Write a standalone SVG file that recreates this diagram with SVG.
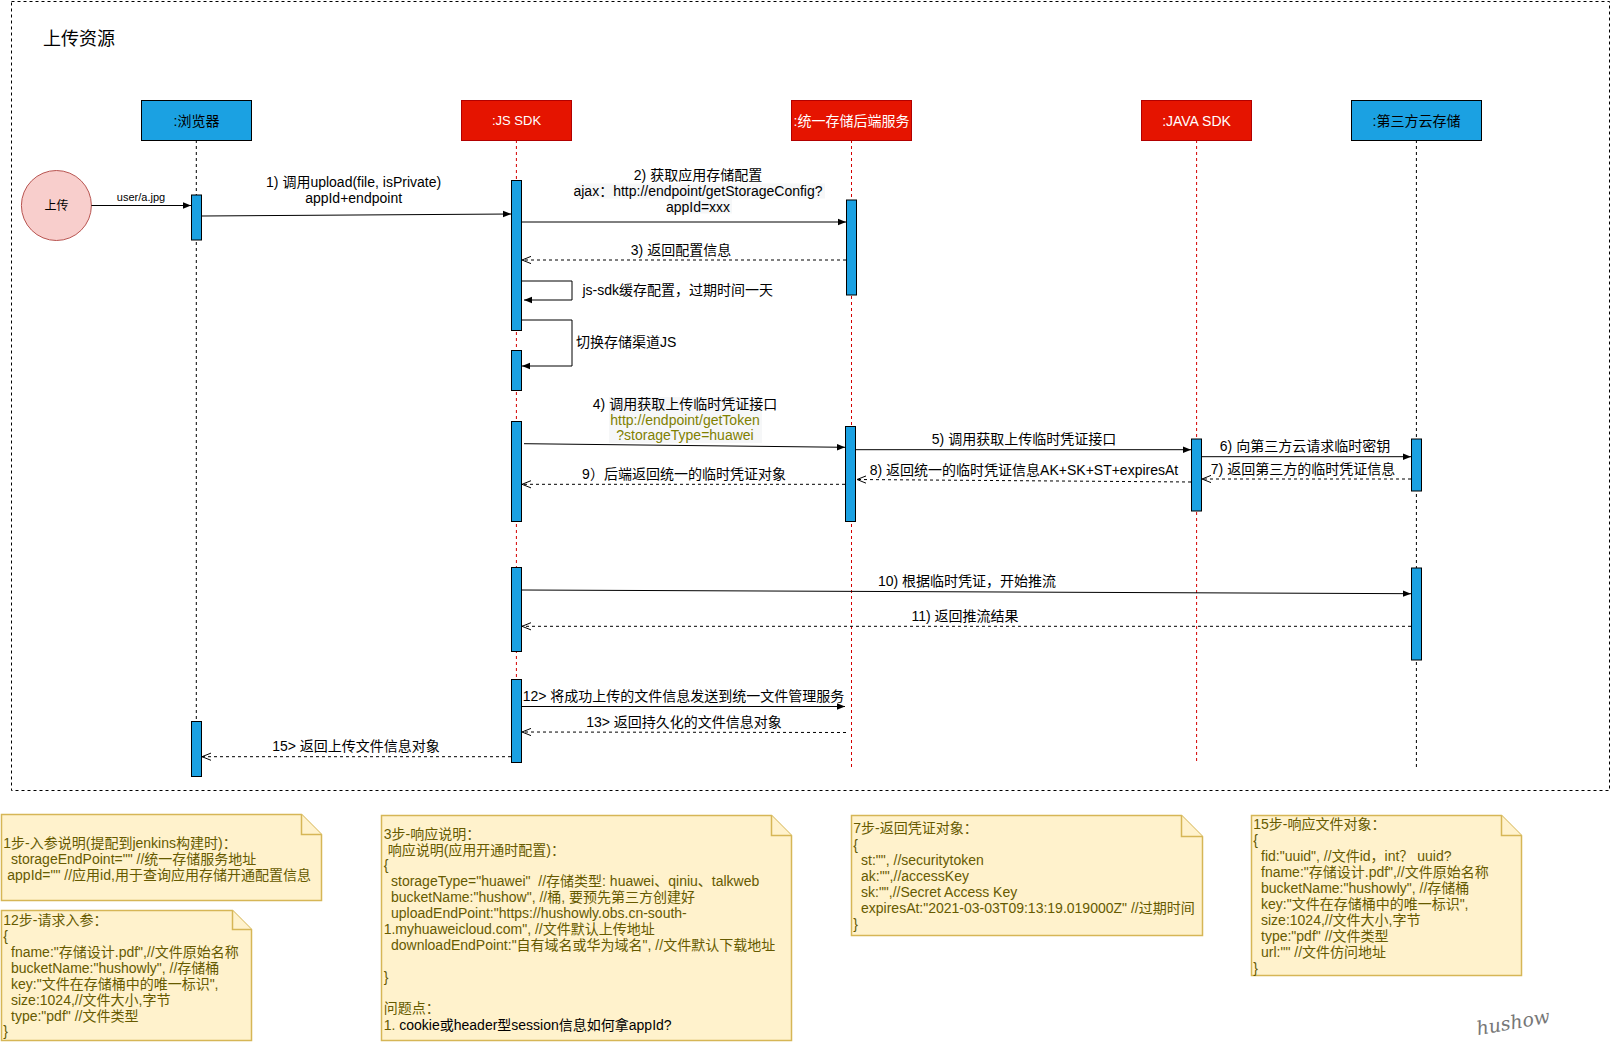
<svg xmlns="http://www.w3.org/2000/svg" width="1612" height="1042" viewBox="0 0 1612 1042">
<style>
text{font-family:"Liberation Sans","Noto Sans CJK SC",sans-serif;dominant-baseline:central}
.t14{font-size:14px;fill:#000}
.mid{text-anchor:middle}
.hdrB{fill:#1ba1e2;stroke:#000;stroke-width:1}
.hdrR{fill:#e51400;stroke:#b20000;stroke-width:1}
.act{fill:#1ba1e2;stroke:#000;stroke-width:1}
.llB{stroke:#000;stroke-width:1;stroke-dasharray:3 3;fill:none}
.llR{stroke:#d40000;stroke-width:1;stroke-dasharray:3 3;fill:none}
.msg{stroke:#000;stroke-width:1;fill:none;marker-end:url(#block)}
.ret{stroke:#000;stroke-width:1;fill:none;stroke-dasharray:3 3;marker-end:url(#open)}
.note{fill:#fff2cc;stroke:#d6b656;stroke-width:1.5}
.nt{font-size:14px;fill:#665a00}
.hl{fill:#f6f7f8}
</style>
<defs>
<marker id="block" viewBox="0 0 10 10" refX="10" refY="5" markerWidth="8" markerHeight="8" orient="auto" markerUnits="userSpaceOnUse"><path d="M0,1 L10,5 L0,9 Z" fill="#000"/></marker>
<marker id="open" viewBox="0 0 10 10" refX="10" refY="5" markerWidth="9" markerHeight="9" orient="auto" markerUnits="userSpaceOnUse"><path d="M0,1 L10,5 L0,9" fill="none" stroke="#000" stroke-width="1.1"/></marker>
</defs>
<rect width="1612" height="1042" fill="#fff"/>
<g id="frame">
<rect x="11.5" y="1.5" width="1598" height="789" fill="none" stroke="#000" stroke-width="1" stroke-dasharray="3 3"/>
<text x="43" y="39" style="font-size:18px">上传资源</text>
</g>
<g id="lifelines">
<line class="llB" x1="196.3" y1="140" x2="196.3" y2="777"/>
<line class="llR" x1="516.4" y1="140" x2="516.4" y2="762"/>
<line class="llR" x1="851.5" y1="140" x2="851.5" y2="767"/>
<line class="llR" x1="1196.6" y1="140" x2="1196.6" y2="761"/>
<line class="llB" x1="1416.4" y1="140" x2="1416.4" y2="767"/>
</g>
<g id="actor-upload">
<circle cx="56.4" cy="205.5" r="35" fill="#f8cecc" stroke="#b85450" stroke-width="1"/>
<text x="56.4" y="205.5" class="mid" style="font-size:12px">上传</text>
</g>
<g id="node-browser">
<rect class="hdrB" x="141.5" y="100.5" width="110" height="40"/>
<text x="196.5" y="120.5" class="mid" style="font-size:14px;fill:#000">:浏览器</text>
</g>
<g id="node-jssdk">
<rect class="hdrR" x="461.5" y="100.5" width="110" height="40"/>
<text x="516.5" y="120.5" class="mid" style="font-size:13px;fill:#fff">:JS SDK</text>
</g>
<g id="node-backend">
<rect class="hdrR" x="791.5" y="100.5" width="120" height="40"/>
<text x="851.5" y="120.5" class="mid" style="font-size:14px;fill:#fff">:统一存储后端服务</text>
</g>
<g id="node-javasdk">
<rect class="hdrR" x="1141.5" y="100.5" width="110" height="40"/>
<text x="1196.5" y="120.5" class="mid" style="font-size:14px;fill:#fff">:JAVA SDK</text>
</g>
<g id="node-cloud">
<rect class="hdrB" x="1351.5" y="100.5" width="130" height="40"/>
<text x="1416.5" y="120.5" class="mid" style="font-size:14px;fill:#000">:第三方云存储</text>
</g>
<g id="activations">
<rect class="act" x="191.5" y="195" width="10" height="45"/>
<rect class="act" x="191.5" y="721.5" width="10" height="55"/>
<rect class="act" x="511.5" y="180.5" width="10" height="150"/>
<rect class="act" x="511.5" y="350.5" width="10" height="40"/>
<rect class="act" x="511.5" y="421.5" width="10" height="100"/>
<rect class="act" x="511.5" y="567.5" width="10" height="84"/>
<rect class="act" x="511.5" y="679.5" width="10" height="83"/>
<rect class="act" x="846.5" y="200" width="10" height="95"/>
<rect class="act" x="845.5" y="426.5" width="10" height="95"/>
<rect class="act" x="1191.5" y="439" width="10" height="72"/>
<rect class="act" x="1411.5" y="439" width="10" height="52"/>
<rect class="act" x="1411.5" y="568" width="10" height="92"/>
</g>
<g id="connectors">
<line class="msg" x1="91.4" y1="205.5" x2="191" y2="205.5"/>
<line class="msg" x1="202" y1="216" x2="511" y2="214"/>
<line class="msg" x1="522" y1="222" x2="846" y2="222"/>
<line class="ret" x1="846" y1="260" x2="522" y2="260"/>
<path class="msg" d="M521.5,281 H572 V300 H524"/>
<path class="msg" d="M521.5,320 H572 V366 H522"/>
<line class="msg" x1="524" y1="443.7" x2="845" y2="447.3"/>
<line class="msg" x1="856" y1="449.7" x2="1191" y2="449.7"/>
<line class="msg" x1="1202" y1="456.7" x2="1411" y2="456.7"/>
<line class="ret" x1="1411" y1="479" x2="1202" y2="479"/>
<line class="ret" x1="1191" y1="482" x2="857" y2="479.5"/>
<line class="ret" x1="845" y1="484.3" x2="522" y2="484.3"/>
<line class="msg" x1="522" y1="590" x2="1411" y2="593.7"/>
<line class="ret" x1="1411" y1="626.3" x2="522" y2="626.3"/>
<line class="msg" x1="522" y1="706.5" x2="845" y2="706.5"/>
<line class="ret" x1="846" y1="732.5" x2="522" y2="732"/>
<line class="ret" x1="511" y1="756.7" x2="202" y2="756.7"/>
</g>
<g id="connector-labels">
<text x="141" y="196.5" class="mid" style="font-size:11px">user/a.jpg</text>
<text x="353.6" y="182" class="t14 mid">1) 调用upload(file, isPrivate)</text>
<text x="353.6" y="198" class="t14 mid">appId+endpoint</text>
<rect class="hl" x="576" y="183.5" width="249" height="15"/>
<rect class="hl" x="668.5" y="198.5" width="63.5" height="15"/>
<text x="698" y="175" class="t14 mid">2) 获取应用存储配置</text>
<text x="698" y="191" class="t14 mid">ajax：http://endpoint/getStorageConfig?</text>
<text x="698" y="207" class="t14 mid">appId=xxx</text>
<text x="681" y="250" class="t14 mid">3) 返回配置信息</text>
<text x="582.5" y="290" class="t14">js-sdk缓存配置，过期时间一天</text>
<text x="576" y="342" class="t14">切换存储渠道JS</text>
<rect class="hl" x="609" y="397" width="153" height="15"/>
<rect class="hl" x="609" y="412" width="153" height="31"/>
<text x="685" y="404" class="t14 mid">4) 调用获取上传临时凭证接口</text>
<text x="685" y="419.5" class="mid" style="font-size:14px;fill:#808000">http://endpoint/getToken</text>
<text x="685" y="435" class="mid" style="font-size:14px;fill:#808000">?storageType=huawei</text>
<text x="1024" y="439.3" class="t14 mid">5) 调用获取上传临时凭证接口</text>
<text x="1305" y="446" class="t14 mid">6) 向第三方云请求临时密钥</text>
<text x="1303" y="469" class="t14 mid">7) 返回第三方的临时凭证信息</text>
<text x="1024" y="470" class="t14 mid">8) 返回统一的临时凭证信息AK+SK+ST+expiresAt</text>
<text x="684" y="474" class="t14 mid">9）后端返回统一的临时凭证对象</text>
<text x="967" y="581" class="t14 mid">10) 根据临时凭证，开始推流</text>
<text x="965" y="616" class="t14 mid">11) 返回推流结果</text>
<text x="683.5" y="696" class="t14 mid">12&gt; 将成功上传的文件信息发送到统一文件管理服务</text>
<text x="684" y="722.3" class="t14 mid">13&gt; 返回持久化的文件信息对象</text>
<text x="356" y="746" class="t14 mid">15&gt; 返回上传文件信息对象</text>
</g>
<g id="note-1">
<path class="note" d="M1.5,814.5 H301.5 L321.5,834.5 V900.5 H1.5 Z"/>
<path class="note" d="M301.5,814.5 V834.5 H321.5"/>
<text class="nt" x="3.3" y="842.7">1步-入参说明(提配到jenkins构建时)：</text>
<text class="nt" x="11" y="859.3">storageEndPoint="" //统一存储服务地址</text>
<text class="nt" x="7.3" y="875.3">appId="" //应用id,用于查询应用存储开通配置信息</text>
</g>
<g id="note-12">
<path class="note" d="M1.5,910.5 H232.5 L251.5,929.5 V1040.5 H1.5 Z"/>
<path class="note" d="M232.5,910.5 V929.5 H251.5"/>
<text class="nt" x="3.3" y="920">12步-请求入参：</text>
<text class="nt" x="3.3" y="935.8">{</text>
<text class="nt" x="11" y="951.7">fname:"存储设计.pdf",//文件原始名称</text>
<text class="nt" x="11" y="967.7">bucketName:"hushowly", //存储桶</text>
<text class="nt" x="11" y="983.7">key:"文件在存储桶中的唯一标识",</text>
<text class="nt" x="11" y="999.7">size:1024,//文件大小,字节</text>
<text class="nt" x="11" y="1015.7">type:"pdf" //文件类型</text>
<text class="nt" x="3.3" y="1031.3">}</text>
</g>
<g id="note-3">
<path class="note" d="M381.5,815.5 H771.5 L791.5,835.5 V1040.5 H381.5 Z"/>
<path class="note" d="M771.5,815.5 V835.5 H791.5"/>
<text class="nt" x="383.7" y="834">3步-响应说明：</text>
<text class="nt" x="387.7" y="849.7">响应说明(应用开通时配置)：</text>
<text class="nt" x="383.7" y="865.3">{</text>
<text class="nt" x="391" y="881.3">storageType="huawei"&#160; //存储类型: huawei、qiniu、talkweb</text>
<text class="nt" x="391" y="897">bucketName:"hushow", //桶, 要预先第三方创建好</text>
<text class="nt" x="391" y="913">uploadEndPoint:"https://hushowly.obs.cn-south-</text>
<text class="nt" x="383.7" y="929">1.myhuaweicloud.com", //文件默认上传地址</text>
<text class="nt" x="391" y="945">downloadEndPoint:"自有域名或华为域名", //文件默认下载地址</text>
<text class="nt" x="383.7" y="977">}</text>
<text class="nt" x="383.7" y="1008.3">问题点：</text>
<text class="nt" x="383.7" y="1025">1. <tspan fill="#000">cookie或header型session信息如何拿appId?</tspan></text>
</g>
<g id="note-7">
<path class="note" d="M851.5,815.5 H1181.5 L1202.5,836.5 V935.5 H851.5 Z"/>
<path class="note" d="M1181.5,815.5 V836.5 H1202.5"/>
<text class="nt" x="853.3" y="828.3">7步-返回凭证对象：</text>
<text class="nt" x="853.3" y="844.5">{</text>
<text class="nt" x="861" y="860.3">st:"", //securitytoken</text>
<text class="nt" x="861" y="876">ak:"",//accessKey</text>
<text class="nt" x="861" y="892.3">sk:"",//Secret Access Key</text>
<text class="nt" x="861" y="908.3">expiresAt:"2021-03-03T09:13:19.019000Z" //过期时间</text>
<text class="nt" x="853.3" y="924">}</text>
</g>
<g id="note-15">
<path class="note" d="M1251.5,815.5 H1501.5 L1521.5,835.5 V975.5 H1251.5 Z"/>
<path class="note" d="M1501.5,815.5 V835.5 H1521.5"/>
<text class="nt" x="1253.3" y="824">15步-响应文件对象：</text>
<text class="nt" x="1253.3" y="840">{</text>
<text class="nt" x="1261" y="856">fid:"uuid", //文件id，int？ uuid?</text>
<text class="nt" x="1261" y="872">fname:"存储设计.pdf",//文件原始名称</text>
<text class="nt" x="1261" y="888">bucketName:"hushowly", //存储桶</text>
<text class="nt" x="1261" y="904">key:"文件在存储桶中的唯一标识",</text>
<text class="nt" x="1261" y="920">size:1024,//文件大小,字节</text>
<text class="nt" x="1261" y="936">type:"pdf" //文件类型</text>
<text class="nt" x="1261" y="952">url:"" //文件仿问地址</text>
<text class="nt" x="1253.3" y="968">}</text>
</g>
<g id="signature">
<text x="1513" y="1022" class="mid" transform="rotate(-10 1513 1022)" style="font-family:'DejaVu Serif',serif;font-style:italic;font-size:19px;fill:#777">hushow</text>
</g>
</svg>
